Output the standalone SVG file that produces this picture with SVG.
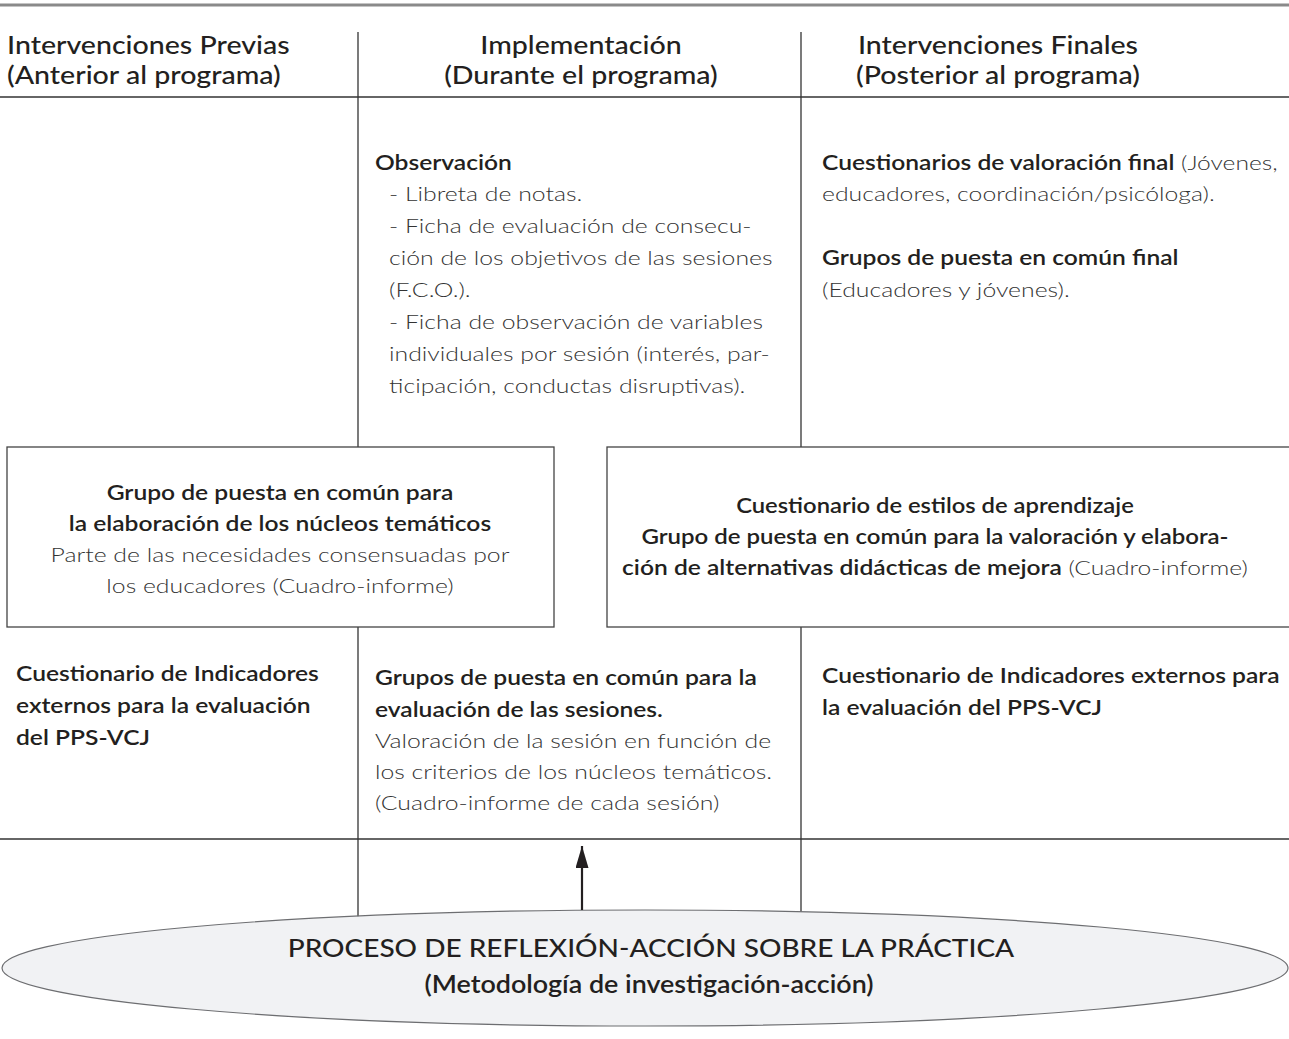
<svg xmlns="http://www.w3.org/2000/svg" width="1289" height="1039" viewBox="0 0 1289 1039">
<defs>
<style>
text{font-family:Lato,"Liberation Sans",sans-serif;fill:#231f20;transform-box:fill-box;transform-origin:0 50%}
text[text-anchor=middle]{transform-origin:50% 50%}
.h{font-size:24px;font-weight:500;transform:scaleX(1.19)}
.b{font-size:20.5px;font-weight:600;transform:scaleX(1.2)}
.l{font-size:20.5px;font-weight:300;fill:#333;transform:scaleX(1.21)}
.m{font-size:20.5px;transform:scaleX(1.2)}
.m .b{font-weight:600}
.m .l{font-weight:300;fill:#333}
.t{font-size:25px;font-weight:500;transform:scaleX(1.12)}
.t2{font-size:24px;font-weight:600;transform:scaleX(1.12)}
.ln{stroke:#333;stroke-width:1.3;fill:none}
.bx{stroke:#444;stroke-width:1.3;fill:#fff}
</style>
<marker id="ah" viewBox="0 0 22 13" refX="22" refY="6.5" markerWidth="22" markerHeight="13" markerUnits="userSpaceOnUse" orient="auto"><path d="M0,0 L22,6.5 L0,13 Z" fill="#231f20"/></marker>
</defs>
<rect width="1289" height="1039" fill="#fff"/>
<g id="grid">
<line x1="0" y1="5" x2="1289" y2="5" stroke="#8a8a8a" stroke-width="3"/>
<line class="ln" x1="0" y1="97" x2="1289" y2="97"/>
<line class="ln" x1="0" y1="839" x2="1289" y2="839"/>
<line class="ln" x1="358" y1="32" x2="358" y2="930"/>
<line class="ln" x1="801" y1="32" x2="801" y2="930"/>
</g>
<g id="headers">
<text class="h" x="7" y="54">Intervenciones Previas</text>
<text class="h" x="7" y="84">(Anterior al programa)</text>
<text class="h" x="581" y="54" text-anchor="middle">Implementación</text>
<text class="h" x="581" y="84" text-anchor="middle">(Durante el programa)</text>
<text class="h" x="998" y="54" text-anchor="middle">Intervenciones Finales</text>
<text class="h" x="998" y="84" text-anchor="middle">(Posterior al programa)</text>
</g>
<g id="observacion">
<text class="b" x="375" y="170">Observación</text>
<text class="l" x="389" y="201">- Libreta de notas.</text>
<text class="l" x="389" y="233">- Ficha de evaluación de consecu-</text>
<text class="l" x="389" y="265">ción de los objetivos de las sesiones</text>
<text class="l" x="389" y="297">(F.C.O.).</text>
<text class="l" x="389" y="329">- Ficha de observación de variables</text>
<text class="l" x="389" y="361">individuales por sesión (interés, par-</text>
<text class="l" x="389" y="393">ticipación, conductas disruptivas).</text>
</g>
<g id="valoracion-final">
<text class="m" x="822" y="170"><tspan class="b">Cuestionarios de valoración final</tspan><tspan class="l"> (Jóvenes,</tspan></text>
<text class="l" x="822" y="201">educadores, coordinación/psicóloga).</text>
<text class="b" x="822" y="265">Grupos de puesta en común final</text>
<text class="l" x="822" y="297">(Educadores y jóvenes).</text>
</g>
<g id="box-nucleos">
<rect class="bx" x="7" y="447" width="547" height="180"/>
<text class="b" x="280" y="500" text-anchor="middle">Grupo de puesta en común para</text>
<text class="b" x="280" y="531" text-anchor="middle">la elaboración de los núcleos temáticos</text>
<text class="l" x="280" y="562" text-anchor="middle">Parte de las necesidades consensuadas por</text>
<text class="l" x="280" y="593" text-anchor="middle">los educadores (Cuadro-informe)</text>
</g>
<g id="box-estilos">
<rect class="bx" x="607" y="447" width="700" height="180"/>
<text class="b" x="935" y="513" text-anchor="middle" style="transform:scaleX(1.16)">Cuestionario de estilos de aprendizaje</text>
<text class="b" x="935" y="544" text-anchor="middle" style="transform:scaleX(1.17)">Grupo de puesta en común para la valoración y elabora-</text>
<text class="m" x="935" y="575" text-anchor="middle"><tspan class="b">ción de alternativas didácticas de mejora</tspan><tspan class="l"> (Cuadro-informe)</tspan></text>
</g>
<g id="indicadores-previos">
<text class="b" x="16" y="681">Cuestionario de Indicadores</text>
<text class="b" x="16" y="713">externos para la evaluación</text>
<text class="b" x="16" y="745">del PPS-VCJ</text>
</g>
<g id="sesiones">
<text class="b" x="375" y="685">Grupos de puesta en común para la</text>
<text class="b" x="375" y="717">evaluación de las sesiones.</text>
<text class="l" x="375" y="748">Valoración de la sesión en función de</text>
<text class="l" x="375" y="779">los criterios de los núcleos temáticos.</text>
<text class="l" x="375" y="810">(Cuadro-informe de cada sesión)</text>
</g>
<g id="indicadores-finales">
<text class="b" x="822" y="683">Cuestionario de Indicadores externos para</text>
<text class="b" x="822" y="715">la evaluación del PPS-VCJ</text>
</g>
<g id="proceso">
<ellipse cx="645" cy="968" rx="643" ry="58" fill="#f1f2f4" stroke="#6d6e71" stroke-width="1.2"/>
<text class="t" x="651" y="957" text-anchor="middle">PROCESO DE REFLEXIÓN-ACCIÓN SOBRE LA PRÁCTICA</text>
<text class="t2" x="649" y="993" text-anchor="middle">(Metodología de investigación-acción)</text>
</g>
<g id="connectors">
<line x1="582" y1="910" x2="582" y2="846" stroke="#231f20" stroke-width="2.2" marker-end="url(#ah)"/>
</g>
</svg>
